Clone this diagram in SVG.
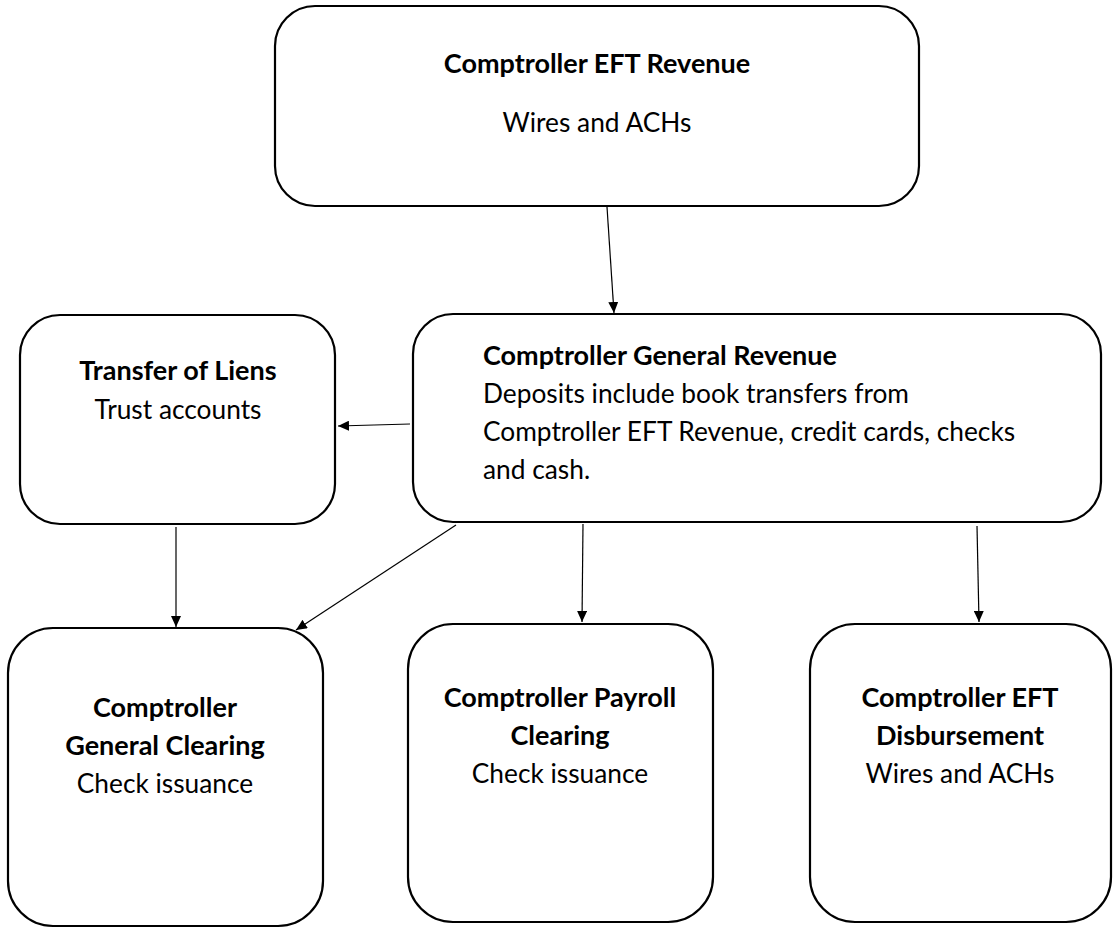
<svg xmlns="http://www.w3.org/2000/svg" width="1116" height="928" viewBox="0 0 1116 928">
<style>
.box{fill:#fff;stroke:#000;stroke-width:2.2}
.t{font-family:Lato,"Liberation Sans",sans-serif;font-size:26.3px;fill:#000}
.b{font-weight:bold;font-size:27px}
.c{text-anchor:middle}
.con{stroke:#000;stroke-width:1.2;fill:none;marker-end:url(#ah)}
</style>
<defs>
<marker id="ah" markerUnits="userSpaceOnUse" markerWidth="12" markerHeight="10" refX="11" refY="5" orient="auto">
<path d="M0,0 L11,5 L0,10 z" fill="#000"/>
</marker>
</defs>
<rect width="1116" height="928" fill="#fff"/>
<g id="eft-revenue">
<rect class="box" x="275" y="6" width="644" height="200" rx="40"/>
<text class="t b c" x="597" y="73">Comptroller EFT Revenue</text>
<text class="t c" x="597" y="132">Wires and ACHs</text>
</g>
<g id="liens">
<rect class="box" x="20" y="315" width="315" height="209" rx="40"/>
<text class="t b c" x="178" y="380">Transfer of Liens</text>
<text class="t c" x="178" y="419">Trust accounts</text>
</g>
<g id="general-revenue">
<rect class="box" x="413" y="314" width="688" height="208" rx="40"/>
<text class="t b" x="483" y="365">Comptroller General Revenue</text>
<text class="t" x="483" y="403">Deposits include book transfers from</text>
<text class="t" x="483" y="441">Comptroller EFT Revenue, credit cards, checks</text>
<text class="t" x="483" y="479">and cash.</text>
</g>
<g id="general-clearing">
<rect class="box" x="8" y="628" width="315" height="298" rx="45"/>
<text class="t b c" x="165" y="717">Comptroller</text>
<text class="t b c" x="165" y="755">General Clearing</text>
<text class="t c" x="165" y="793">Check issuance</text>
</g>
<g id="payroll-clearing">
<rect class="box" x="408" y="624" width="305" height="298" rx="45"/>
<text class="t b c" x="560" y="707">Comptroller Payroll</text>
<text class="t b c" x="560" y="745">Clearing</text>
<text class="t c" x="560" y="783">Check issuance</text>
</g>
<g id="eft-disbursement">
<rect class="box" x="810" y="624" width="301" height="298" rx="45"/>
<text class="t b c" x="960" y="707">Comptroller EFT</text>
<text class="t b c" x="960" y="745">Disbursement</text>
<text class="t c" x="960" y="783">Wires and ACHs</text>
</g>
<g id="connectors">
<line class="con" x1="607" y1="207" x2="614" y2="313"/>
<line class="con" x1="410" y1="424" x2="338" y2="426"/>
<line class="con" x1="176" y1="527" x2="176" y2="627"/>
<line class="con" x1="456" y1="525" x2="296" y2="630"/>
<line class="con" x1="583" y1="524" x2="582" y2="622"/>
<line class="con" x1="977" y1="526" x2="979" y2="622"/>
</g>
</svg>
